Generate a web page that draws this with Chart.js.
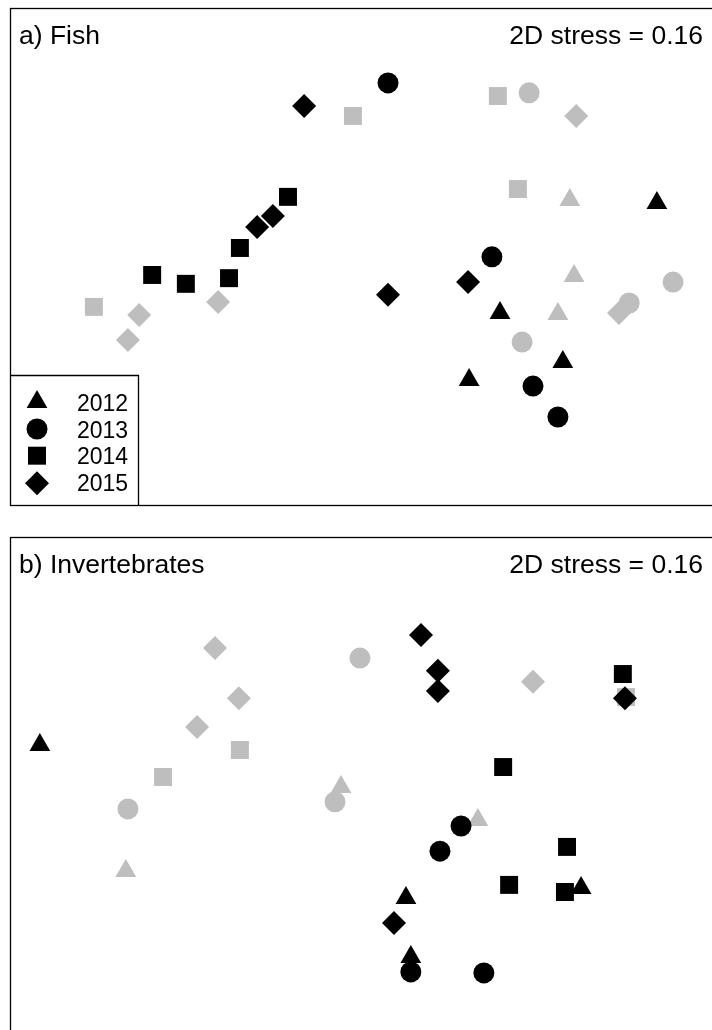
<!DOCTYPE html>
<html>
<head>
<meta charset="utf-8">
<title>NMDS ordination</title>
<script src="https://cdn.jsdelivr.net/npm/chart.js@4/dist/chart.umd.min.js"></script>
<style>
  html, body { margin: 0; padding: 0; background: #fff; overflow: hidden; }
  .panel { position: absolute; left: 0; width: 712px; height: 521px; }
</style>
</head>
<body>
<div class="panel" style="top:0"><canvas id="fishChart" width="712" height="521"></canvas></div>
<div class="panel" style="top:529px"><canvas id="invChart" width="712" height="521"></canvas></div>
<script>
// Легенда / годы и символы
const years = ['2012', '2013', '2014', '2015'];
const shapes = ['triangle', 'circle', 'rect', 'rectRot'];
const radii = [12, 10.5, 12.7, 12];
const stressLabel = '2D stress = 0.16';

// a) Fish — NMDS координаты [x, y]
const fish2012Black = [[0.843, 0.151], [0.396, -0.159], [0.575, -0.297], [0.308, -0.348]];
const fish2012Grey  = [[0.595, 0.159], [0.607, -0.055], [0.561, -0.162]];
const fish2013Black = [[0.077, 0.489], [0.373, -0.001], [0.490, -0.365], [0.561, -0.452]];
const fish2013Grey  = [[0.479, 0.461], [0.889, -0.072], [0.764, -0.131], [0.459, -0.241]];
const fish2014Black = [[-0.208, 0.168], [-0.345, 0.024], [-0.595, -0.052], [-0.499, -0.077], [-0.376, -0.061]];
const fish2014Grey  = [[-0.023, 0.396], [0.390, 0.452], [0.447, 0.190], [-0.761, -0.142]];
const fish2015Black = [[-0.162, 0.424], [-0.251, 0.114], [-0.296, 0.083], [0.077, -0.108], [0.305, -0.072]];
const fish2015Grey  = [[0.613, 0.396], [-0.407, -0.128], [-0.632, -0.165], [-0.664, -0.235], [0.735, -0.159]];

// b) Invertebrates
const inv2012Black = [[-0.915, 0.114], [0.627, -0.289], [0.128, -0.317], [0.142, -0.483]];
const inv2012Grey  = [[-0.057, -0.004], [-0.670, -0.241], [0.333, -0.097]];
const inv2013Black = [[0.285, -0.114], [0.225, -0.185], [0.142, -0.525], [0.350, -0.528]];
const inv2013Grey  = [[-0.003, 0.359], [-0.664, -0.066], [-0.074, -0.046]];
const inv2014Black = [[0.746, 0.314], [0.405, 0.052], [0.587, -0.173], [0.422, -0.280], [0.581, -0.300]];
const inv2014Grey  = [[-0.345, 0.100], [-0.564, 0.024], [0.755, 0.249]];
const inv2015Black = [[0.171, 0.424], [0.219, 0.323], [0.219, 0.266], [0.752, 0.246], [0.094, -0.387]];
const inv2015Grey  = [[-0.416, 0.387], [-0.348, 0.246], [-0.467, 0.165], [0.490, 0.292]];

const BLACK = '#000000';
const GREY = '#bebebe';
const FONT = "'Liberation Sans', Arial, Helvetica, sans-serif";

function toPoints(arr) {
    return arr.map(p => ({ x: p[0], y: p[1] }));
}

// Серые точки снизу, чёрные сверху
function buildDatasets(blackSets, greySets) {
    const sets = [];
    years.forEach((yr, i) => {
        sets.push({
            label: yr + ' grey',
            data: toPoints(greySets[i]),
            pointStyle: shapes[i],
            pointRadius: radii[i],
            pointBorderWidth: 0,
            backgroundColor: GREY,
            borderColor: GREY,
            order: 20 - i
        });
        sets.push({
            label: yr,
            data: toPoints(blackSets[i]),
            pointStyle: shapes[i],
            pointRadius: radii[i],
            pointBorderWidth: 0,
            backgroundColor: BLACK,
            borderColor: BLACK,
            order: 10 - i
        });
    });
    return sets;
}

// Рамка и подписи панели
const panelFrame = {
    id: 'panelFrame',
    afterDraw(chart, args, opts) {
        const { ctx, chartArea } = chart;
        const { left, top, bottom } = chartArea;
        ctx.save();
        ctx.strokeStyle = '#000';
        ctx.lineWidth = 1.3;
        ctx.strokeRect(left + 0.5, top + 0.5, chart.width, bottom - top);
        ctx.fillStyle = '#000';
        ctx.font = '26.5px ' + FONT;
        ctx.textBaseline = 'alphabetic';
        ctx.textAlign = 'left';
        ctx.fillText(opts.title, left + 9, top + 35.5);
        ctx.textAlign = 'right';
        ctx.fillText(stressLabel, left + 693, top + 35.5);
        ctx.restore();
    }
};

// Легенда внутри области графика
const yearLegend = {
    id: 'yearLegend',
    afterDraw(chart, args, opts) {
        if (!opts.show) return;
        const { ctx, chartArea } = chart;
        const { left, bottom } = chartArea;
        const boxTop = bottom - 130;
        ctx.save();
        ctx.strokeStyle = '#000';
        ctx.lineWidth = 1.3;
        ctx.beginPath();
        ctx.moveTo(left, boxTop + 0.5);
        ctx.lineTo(left + 128.5, boxTop + 0.5);
        ctx.lineTo(left + 128.5, bottom);
        ctx.stroke();
        ctx.fillStyle = BLACK;
        ctx.font = '23px ' + FONT;
        ctx.textAlign = 'left';
        ctx.textBaseline = 'alphabetic';
        const markerY = [27, 54, 80.7, 108.3];
        const textY = [35.7, 62.7, 89.3, 115.7];
        years.forEach((yr, i) => {
            Chart.helpers.drawPoint(ctx, {
                pointStyle: shapes[i],
                radius: radii[i],
                rotation: 0,
                borderWidth: 0
            }, left + 27, boxTop + markerY[i]);
            ctx.fillText(yr, left + 67, boxTop + textY[i]);
        });
        ctx.restore();
    }
};

function makeChart(canvasId, datasets, title, showLegend) {
    const ctx = document.getElementById(canvasId).getContext('2d');
    return new Chart(ctx, {
        type: 'scatter',
        data: { datasets: datasets },
        options: {
            responsive: false,
            animation: false,
            layout: {
                autoPadding: false,
                padding: { left: 10, right: 0, top: 8, bottom: 16 }
            },
            scales: {
                x: { type: 'linear', min: -1, max: 1, display: false },
                y: { type: 'linear', min: -0.7, max: 0.7, display: false }
            },
            plugins: {
                legend: { display: false },
                tooltip: { enabled: false },
                panelFrame: { title: title },
                yearLegend: { show: showLegend }
            }
        },
        plugins: [panelFrame, yearLegend]
    });
}

makeChart('fishChart',
    buildDatasets([fish2012Black, fish2013Black, fish2014Black, fish2015Black],
                  [fish2012Grey, fish2013Grey, fish2014Grey, fish2015Grey]),
    'a) Fish', true);

makeChart('invChart',
    buildDatasets([inv2012Black, inv2013Black, inv2014Black, inv2015Black],
                  [inv2012Grey, inv2013Grey, inv2014Grey, inv2015Grey]),
    'b) Invertebrates', false);
</script>
</body>
</html>
